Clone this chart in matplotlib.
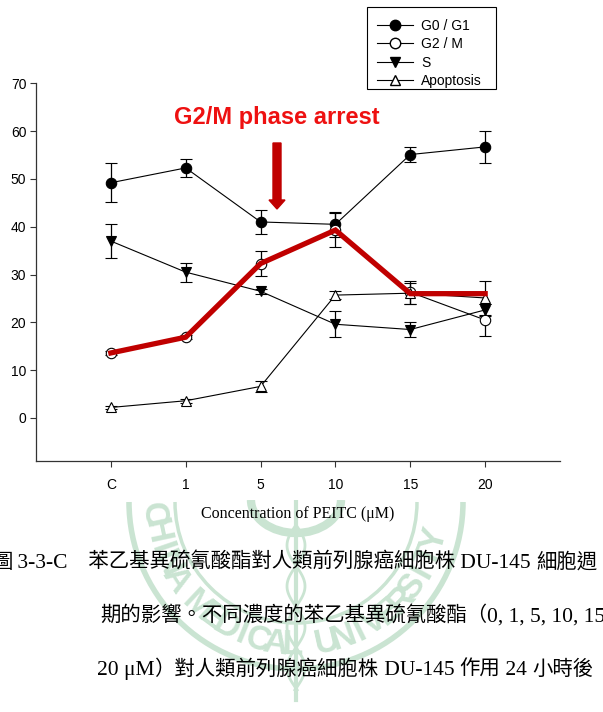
import re
import numpy as np
import matplotlib.pyplot as plt
from matplotlib import font_manager
from matplotlib.lines import Line2D
from matplotlib.patches import FancyArrow, Rectangle, Arc

# concentration groups (C = control)
conc_labels = ['C', '1', '5', '10', '15', '20']

g0g1 = [49.2, 52.3, 41.0, 40.5, 55.1, 56.7]
g0g1_err = [4.1, 1.9, 2.6, 2.6, 1.5, 3.4]

g2m = [13.6, 16.9, 32.3, 39.3, 26.3, 20.5]
g2m_err = [0.4, 0.4, 2.6, 3.5, 2.4, 3.3]

s_phase = [37.0, 30.5, 26.5, 19.6, 18.5, 22.6]
s_err = [3.6, 2.0, 0.5, 2.7, 1.5, 1.2]

apoptosis = [2.2, 3.6, 6.6, 25.7, 26.1, 25.1]
apop_err = [0.3, 0.4, 1.2, 0.8, 2.2, 3.5]

# red highlight drawn over the G2/M curve
highlight = [13.6, 16.9, 32.3, 39.3, 26.0, 26.0]

caption = [
    '圖 3-3-C　苯乙基異硫氰酸酯對人類前列腺癌細胞株 DU-145 細胞週',
    '期的影響。不同濃度的苯乙基異硫氰酸酯（0, 1, 5, 10, 15,',
    '20 μM）對人類前列腺癌細胞株 DU-145 作用 24 小時後',
]
watermark = 'CHINA MEDICAL UNIVERSITY'

W, H = 603, 712
fig = plt.figure(figsize=(W / 100, H / 100), dpi=100)
fig.patch.set_facecolor('white')


def px(x, y):
    """pixel position (from top-left) -> figure fraction"""
    return x / W, 1 - y / H


# faint university seal behind the caption, drawn in pixel coordinates
installed = {f.name for f in font_manager.fontManager.ttflist}
wm_font = 'Liberation Sans Narrow' if 'Liberation Sans Narrow' in installed else 'Liberation Sans'

wm = fig.add_axes([0, 0, 1, 1], zorder=-1)
wm.set_xlim(0, W)
wm.set_ylim(H, 0)
wm.axis('off')
clip = Rectangle((0, 500), W, H - 500, transform=wm.transData)
wm_col = '#cae4d2'
cx, cy = 296, 502
arts = []
for rad, lw in [(167, 4), (121, 2.5)]:
    arts.append(wm.add_patch(Arc((cx, cy), 2 * rad, 2 * rad, theta1=0, theta2=180,
                                 color=wm_col, lw=lw)))
angles = np.linspace(185, 345, len(watermark))
for ch, a in zip(watermark, angles):
    t = np.radians(a)
    arts.append(wm.text(cx + 143 * np.cos(t), cy - 143 * np.sin(t), ch,
                        fontsize=25, fontweight='bold', color=wm_col,
                        family=wm_font, rotation=a + 90,
                        ha='center', va='center'))
yy = np.linspace(525, 690, 120)
arts += wm.plot([cx, cx], [500, 700], color=wm_col, lw=3)
arts += wm.plot(cx + 9 * np.sin((yy - 525) / 13), yy, color=wm_col, lw=2)
arts += wm.plot(cx - 9 * np.sin((yy - 525) / 13), yy, color=wm_col, lw=2)
arts.append(wm.add_patch(Arc((cx, 500), 90, 66, theta1=0, theta2=180,
                             color=wm_col, lw=6)))
for a in arts:
    a.set_clip_path(clip)

ax = fig.add_axes([36 / W, (H - 461) / H, (560 - 36) / W, (461 - 83.3) / H])
x = list(range(len(conc_labels)))

common = dict(color='black', lw=0.8, elinewidth=0.9, capsize=4.5, capthick=0.9,
              markersize=7.5, markeredgewidth=0.8, markeredgecolor='black')
ax.errorbar(x, g0g1, yerr=g0g1_err, marker='o', markerfacecolor='black', zorder=3, **common)
ax.errorbar(x, g2m, yerr=g2m_err, marker='o', markerfacecolor='white', zorder=3, **common)
ax.errorbar(x, s_phase, yerr=s_err, marker='v', markerfacecolor='black', zorder=3, **common)
ax.errorbar(x, apoptosis, yerr=apop_err, marker='^', markerfacecolor='white', zorder=3, **common)

ax.plot(x, highlight, color='#c00000', lw=3.8, zorder=4, solid_joinstyle='miter')

ax.set_xlim(-1, 6)
ax.set_ylim(-9, 70)
ax.set_xticks(x)
ax.set_xticklabels(conc_labels)
ax.set_yticks(range(0, 71, 10))
for sp in ['top', 'right']:
    ax.spines[sp].set_visible(False)
for sp in ['left', 'bottom']:
    ax.spines[sp].set_linewidth(0.9)
    ax.spines[sp].set_color('#333333')
ax.tick_params(direction='out', length=4, width=0.8, color='#333333', labelsize=10)
ax.tick_params(axis='x', pad=8)
ax.tick_params(axis='y', pad=3)
for lab in ax.get_xticklabels() + ax.get_yticklabels():
    lab.set_family('Liberation Sans')

ax.set_xlabel('Concentration of PEITC (μM)', family='Liberation Serif',
              fontsize=11.5, labelpad=10)

handles = [
    Line2D([], [], color='black', lw=0.8, marker='o', mfc='black', mec='black', ms=7.5),
    Line2D([], [], color='black', lw=0.8, marker='o', mfc='white', mec='black', ms=7.5),
    Line2D([], [], color='black', lw=0.8, marker='v', mfc='black', mec='black', ms=7.5),
    Line2D([], [], color='black', lw=0.8, marker='^', mfc='white', mec='black', ms=7.5),
]
fig.legend(handles, ['G0 / G1', 'G2 / M', 'S', 'Apoptosis'],
           loc='upper left', bbox_to_anchor=px(367, 9), frameon=False,
           prop={'family': 'Liberation Sans', 'size': 10},
           handlelength=2.6, handletextpad=0.6, labelspacing=0.32,
           borderpad=0.7, borderaxespad=0)
fig.add_artist(Rectangle(px(367, 89), 129 / W, 82 / H, transform=fig.transFigure,
                         fill=False, edgecolor='black', lw=0.8))

fig.text(*px(277, 124), 'G2/M phase arrest', color='#ee1111',
         fontsize=17, fontweight='bold', family='Liberation Sans',
         ha='center', va='baseline')
arrow = FancyArrow(*px(277, 143), 0, -(209 - 143) / H, width=8 / W,
                   head_width=16 / W, head_length=9 / H,
                   length_includes_head=True, color='#c00000',
                   transform=fig.transFigure)
fig.patches.append(arrow)

# caption: CJK in Noto Sans CJK TC, latin in a Times-like serif
renderer = fig.canvas.get_renderer()
cjk = re.compile(r'([\u3000-\u303f\u4e00-\u9fff\uff00-\uffef]+)')


def caption_line(x0, y0, s):
    xpos = x0
    for part in cjk.split(s):
        if not part:
            continue
        if cjk.fullmatch(part):
            kw = dict(family='Noto Sans CJK TC', fontsize=14.7)
        else:
            kw = dict(family='Liberation Serif', fontsize=15.5)
        t = fig.text(*px(xpos, y0), part, va='baseline', ha='left', **kw)
        xpos += t.get_window_extent(renderer).width


caption_line(-8, 568, caption[0])
caption_line(100, 622, caption[1])
caption_line(97, 675, caption[2])

fig.savefig('out.png', dpi=100)
